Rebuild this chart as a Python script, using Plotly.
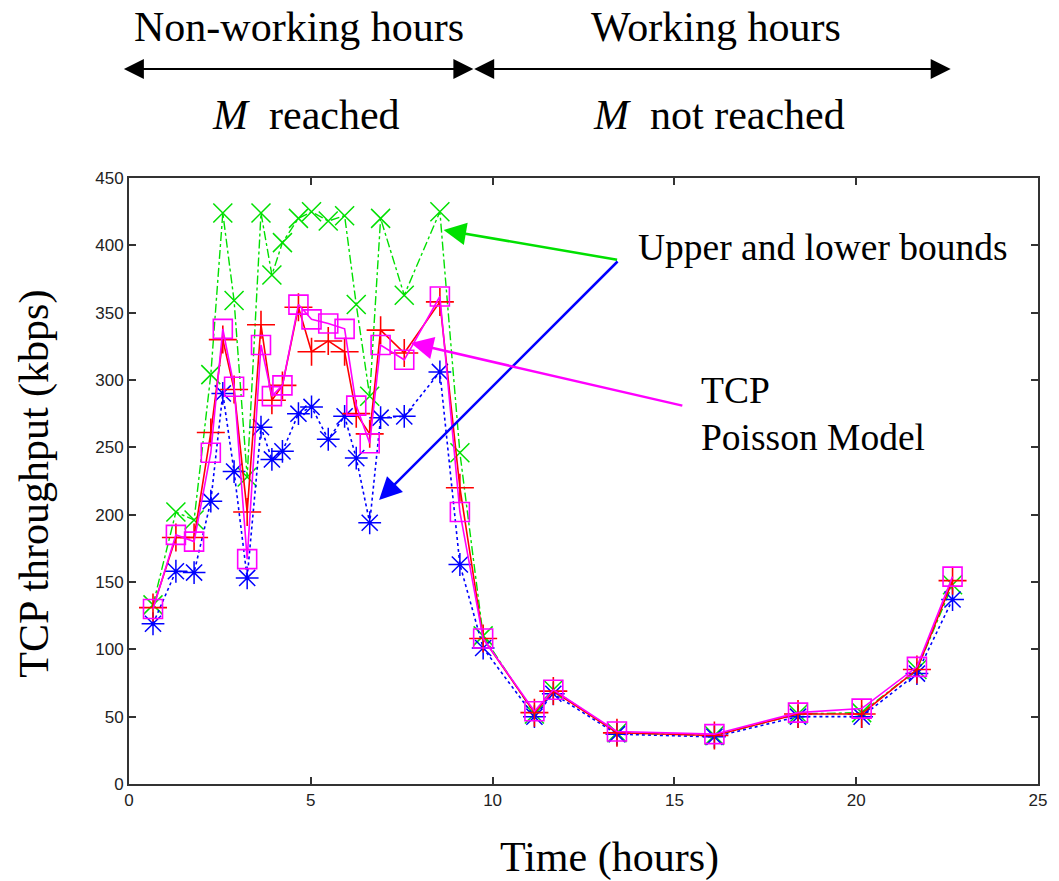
import plotly.graph_objects as go

# Time of day (hours) at which each measurement was taken
hours = [0.66, 1.29, 1.79, 2.25, 2.58, 2.89, 3.25, 3.63, 3.93, 4.22, 4.66, 5.02,
         5.48, 5.93, 6.25, 6.62, 6.92, 7.57, 8.55, 9.10, 9.74, 11.15, 11.67,
         13.42, 16.10, 18.40, 20.15, 21.67, 22.65]

# Throughput series (kbps)
tcp_measured = [131, 183, 183, 261, 330, 293, 202, 341, 285, 296, 354, 321,
                329, 321, 275, 260, 337, 320, 358, 220, 108, 53, 69,
                38, 36, 52, 52, 85, 151]
upper_bound = [133, 202, 196, 304, 424, 359, 228, 424, 378, 402, 420, 425,
               418, 422, 356, 288, 420, 363, 425, 246, 110, 52, 70,
               38, 36, 52, 53, 85, 148]
lower_bound = [119, 158, 157, 210, 290, 232, 153, 265, 241, 247, 275, 280,
               256, 273, 242, 194, 272, 273, 306, 163, 101, 50, 67,
               37, 35, 50, 50, 82, 137]
poisson_model = [130, 185, 180, 246, 338, 295, 167, 326, 288, 296, 356, 345,
                 342, 338, 281, 253, 326, 315, 362, 202, 108, 54, 70,
                 39, 37, 53, 56, 87, 154]

x_ticks = [0, 5, 10, 15, 20, 25]
y_ticks = [0, 50, 100, 150, 200, 250, 300, 350, 400, 450]

W, H = 1059, 881
ML, MR, MT, MB = 129, 14, 178, 97
PW, PH = W - ML - MR, H - MT - MB


def px(x):
    return (x - ML) / PW


def py(y):
    return (H - MB - y) / PH


SERIF = "Liberation Serif"
SANS = "Liberation Sans"

RED = "#ff0000"
GREEN = "#00e000"
BLUE = "#0000ff"
MAGENTA = "#ff00ff"

fig = go.Figure()

fig.add_trace(go.Scatter(
    x=hours, y=upper_bound, mode="lines+markers", name="Upper bound",
    line=dict(color=GREEN, width=1.4, dash="dashdot"),
    marker=dict(symbol="x-thin-open", size=19, color=GREEN,
                line=dict(color=GREEN, width=1.5)),
))
fig.add_trace(go.Scatter(
    x=hours, y=lower_bound, mode="lines+markers", name="Lower bound",
    line=dict(color=BLUE, width=1.6, dash="dot"),
    marker=dict(symbol="asterisk-open", size=19, color=BLUE,
                line=dict(color=BLUE, width=1.5)),
))
fig.add_trace(go.Scatter(
    x=hours, y=tcp_measured, mode="lines+markers", name="TCP",
    line=dict(color=RED, width=1.6),
    marker=dict(symbol="cross-thin-open", size=20, color=RED,
                line=dict(color=RED, width=1.6)),
))
fig.add_trace(go.Scatter(
    x=hours, y=poisson_model, mode="lines+markers", name="Poisson Model",
    line=dict(color=MAGENTA, width=1.6),
    marker=dict(symbol="square-open", size=19, color=MAGENTA,
                line=dict(color=MAGENTA, width=1.6)),
))

axis_common = dict(
    showline=True, linecolor="#333333", linewidth=2, mirror="ticks",
    ticks="inside", ticklen=7, tickwidth=1.5, tickcolor="#333333",
    showgrid=False, zeroline=False,
    tickfont=dict(family=SANS, size=17, color="#222222"),
)

fig.update_layout(
    width=W, height=H,
    margin=dict(l=ML, r=MR, t=MT, b=MB),
    paper_bgcolor="white", plot_bgcolor="white",
    showlegend=False,
    xaxis=dict(range=[0, 25], tickvals=x_ticks, ticktext=[str(v) for v in x_ticks],
               **axis_common),
    yaxis=dict(range=[0, 450], tickvals=y_ticks, ticktext=[str(v) for v in y_ticks],
               **axis_common),
)

annotations = []

# Axis titles
annotations.append(dict(
    x=px(613), y=py(857), xref="paper", yref="paper", text="Time (hours)",
    showarrow=False, xanchor="center", yanchor="middle",
    font=dict(family=SERIF, size=42, color="black"),
))
annotations.append(dict(
    x=px(33), y=py(484), xref="paper", yref="paper", text="TCP throughput (kbps)",
    showarrow=False, xanchor="center", yanchor="middle", textangle=-90,
    font=dict(family=SERIF, size=42, color="black"),
))

# Header labels above the plot
for text, cx, cy in [("Non-working hours", 300, 27), ("Working hours", 721, 27),
                     ("<i>M</i>  reached", 307, 115), ("<i>M</i>  not reached", 724, 115)]:
    annotations.append(dict(
        x=px(cx), y=py(cy), xref="paper", yref="paper", text=text, showarrow=False,
        font=dict(family=SERIF, size=42, color="black"), xanchor="center", yanchor="middle",
    ))

# Double-headed period arrows
for left, right in [(125, 476), (479, 957)]:
    annotations.append(dict(
        x=px(right), y=py(69), xref="paper", yref="paper", text="",
        showarrow=True, ax=left - right, ay=0, axref="pixel", ayref="pixel",
        arrowhead=2, arrowside="end+start", arrowsize=2, arrowwidth=2,
        arrowcolor="black", standoff=0, startstandoff=0,
    ))

# Callouts pointing at the series
callouts = [
    (446, 230, 621, 260, GREEN),
    (381, 500, 621, 260, BLUE),
    (413, 343, 686, 406, MAGENTA),
]
for hx, hy, tx, ty, col in callouts:
    annotations.append(dict(
        x=px(hx), y=py(hy), xref="paper", yref="paper", text="",
        showarrow=True, ax=tx - hx, ay=ty - hy, axref="pixel", ayref="pixel",
        arrowhead=2, arrowsize=1.8, arrowwidth=2.5, arrowcolor=col, standoff=0,
    ))

annotations.append(dict(
    x=px(640), y=py(247), xref="paper", yref="paper", text="Upper and lower bounds",
    showarrow=False, xanchor="left", yanchor="middle",
    font=dict(family=SERIF, size=37.5, color="black"),
))
annotations.append(dict(
    x=px(703), y=py(390), xref="paper", yref="paper", text="TCP",
    showarrow=False, xanchor="left", yanchor="middle",
    font=dict(family=SERIF, size=37.5, color="black"),
))
annotations.append(dict(
    x=px(703), y=py(437), xref="paper", yref="paper", text="Poisson Model",
    showarrow=False, xanchor="left", yanchor="middle",
    font=dict(family=SERIF, size=37.5, color="black"),
))

fig.update_layout(annotations=annotations)

fig.write_html("out.html")
